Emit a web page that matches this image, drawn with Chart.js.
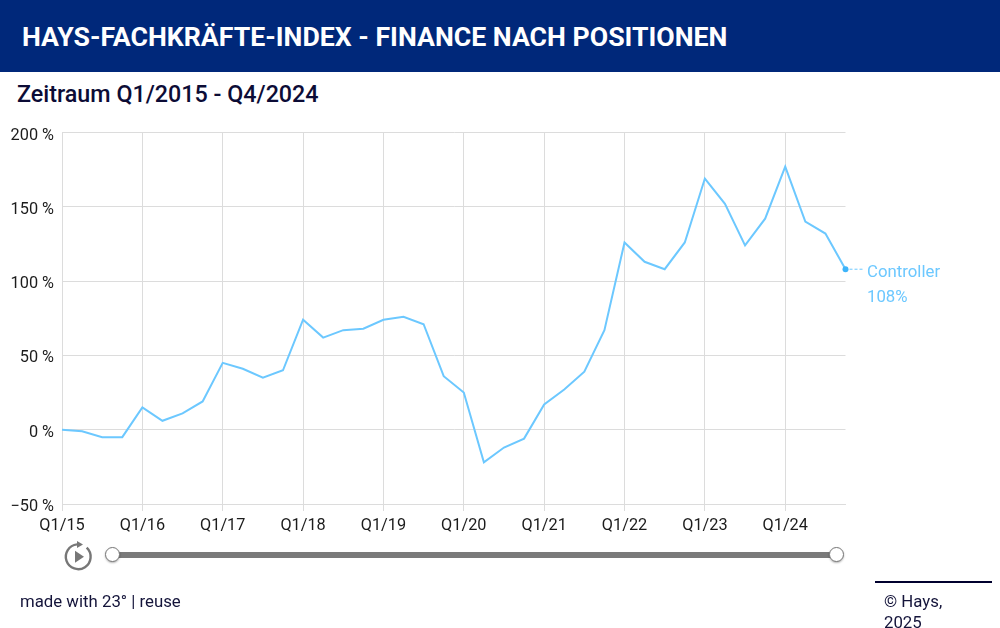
<!DOCTYPE html>
<html lang="de">
<head>
<meta charset="utf-8">
<title>Hays-Fachkräfte-Index</title>
<script src="https://cdn.jsdelivr.net/npm/chart.js@4"></script>
<style>
  html, body { margin: 0; padding: 0; background: #fff; }
  body { position: relative; width: 1000px; height: 628px; overflow: hidden; font-family: Roboto, sans-serif; color: #14143a; }
  #header { position: absolute; left: 0; top: 0; width: 1000px; height: 72px; background: #00287a; }
  #header h1 { position: absolute; left: 22px; top: 21px; margin: 0; font-size: 26.7px; line-height: 32px; font-weight: 700; color: #fff; white-space: nowrap; }
  #subtitle { position: absolute; left: 17px; top: 80px; font-size: 23.3px; line-height: 28px; font-weight: 500; color: #0c0c36; white-space: nowrap; }
  #chart { position: absolute; left: 0; top: 0; }
  #play { position: absolute; left: 62px; top: 538px; }
  #track { position: absolute; left: 113px; top: 552px; width: 724px; height: 6px; background: #7a7a7a; }
  .handle { position: absolute; top: 547px; width: 13px; height: 13px; border: 1.5px solid #777; border-radius: 50%; background: #fff; box-shadow: 0 1px 2px rgba(0,0,0,.3); }
  #made { position: absolute; left: 20px; top: 591px; font-size: 16.8px; line-height: 21px; white-space: nowrap; }
  #rule { position: absolute; left: 875px; top: 581px; width: 117px; height: 2px; background: #00002e; }
  #copy { position: absolute; left: 884px; top: 591px; font-size: 16.8px; line-height: 21px; }
</style>
</head>
<body>
<div id="header"><h1>HAYS-FACHKRÄFTE-INDEX - FINANCE NACH POSITIONEN</h1></div>
<div id="subtitle">Zeitraum Q1/2015 - Q4/2024</div>
<canvas id="chart" width="1000" height="560"></canvas>
<svg id="play" width="34" height="36" viewBox="0 0 34 36">
  <path d="M 24.7 9.7 A 12.4 12.4 0 1 1 15 6.4" fill="none" stroke="#777" stroke-width="2.4"/>
  <path d="M 15 3 L 21 6.5 L 15 10 Z" fill="#777"/>
  <path d="M 13 12.7 L 22 18.7 L 13 24.7 Z" fill="#777"/>
</svg>
<div id="track"></div>
<div class="handle" style="left:105px"></div>
<div class="handle" style="left:829px"></div>
<div id="made">made with 23° | reuse</div>
<div id="rule"></div>
<div id="copy">© Hays,<br>2025</div>
<script>
const years = ["15", "16", "17", "18", "19", "20", "21", "22", "23", "24"];
// one label per quarter, only Q1 gets shown on the axis
const quarters = years.flatMap((y) => [1, 2, 3, 4].map((q) => `Q${q}/${y}`));

const controller = [
  0, -1, -5, -5,
  15, 6, 11, 19,
  45, 41, 35, 40,
  74, 62, 67, 68,
  74, 76, 71, 36,
  25, -22, -12, -6,
  17, 27, 39, 67,
  126, 113, 108, 126,
  169, 152, 124, 142,
  177, 140, 132, 108,
];
const seriesName = "Controller";
const lineColor = "#6cc8ff";
const dotColor = "#3db4fa";
const gridColor = "#dcdcdc";
const lastIndex = controller.length - 1;

// label at the end of the line with the dashed leader
const endLabel = {
  id: "endLabel",
  afterDatasetsDraw(chart) {
    const { ctx, scales } = chart;
    const x = scales.x.getPixelForValue(lastIndex);
    const y = scales.y.getPixelForValue(controller[lastIndex]);
    ctx.save();
    ctx.strokeStyle = lineColor;
    ctx.lineWidth = 1;
    ctx.setLineDash([3, 2]);
    ctx.beginPath();
    ctx.moveTo(x + 4, y);
    ctx.lineTo(x + 17, y);
    ctx.stroke();
    ctx.setLineDash([]);
    ctx.fillStyle = lineColor;
    ctx.font = "16.8px Roboto";
    ctx.textAlign = "left";
    ctx.textBaseline = "alphabetic";
    ctx.fillText(seriesName, x + 21.5, y + 8);
    ctx.fillText(controller[lastIndex] + "%", x + 21.5, y + 33);
    ctx.restore();
  },
};

const config = {
  type: "line",
  data: {
    labels: quarters,
    datasets: [
      {
        label: seriesName,
        data: controller,
        borderColor: lineColor,
        borderWidth: 2,
        tension: 0,
        clip: false,
        pointRadius: (c) => (c.dataIndex === lastIndex ? 3 : 0),
        pointBackgroundColor: dotColor,
        pointBorderWidth: 0,
      },
    ],
  },
  options: {
    responsive: false,
    animation: false,
    layout: { padding: { left: 0, right: 154.5, top: 132.5, bottom: 0 } },
    plugins: { legend: { display: false }, tooltip: { enabled: false } },
    scales: {
      x: {
        afterFit: (s) => { s.height = 56; },
        border: { color: gridColor },
        grid: {
          color: (c) => (c.index % 4 === 0 ? gridColor : "transparent"),
          tickLength: 7,
        },
        ticks: {
          autoSkip: false,
          maxRotation: 0,
          padding: 5,
          color: "#1c1c1c",
          font: { family: "Roboto", size: 16.3 },
          callback: (v, i) => (i % 4 === 0 ? quarters[i] : ""),
        },
      },
      y: {
        min: -50,
        max: 200,
        afterFit: (s) => { s.width = 62; },
        border: { color: gridColor },
        grid: { color: gridColor, drawTicks: false },
        ticks: {
          stepSize: 50,
          padding: 8,
          labelOffset: 3,
          color: "#1c1c1c",
          font: { family: "Roboto", size: 16.3 },
          callback: (v) => String(v).replace("-", "−") + " %",
        },
      },
    },
  },
  plugins: [endLabel],
};

new Chart(document.querySelector("#chart").getContext("2d"), config);
</script>
</body>
</html>
